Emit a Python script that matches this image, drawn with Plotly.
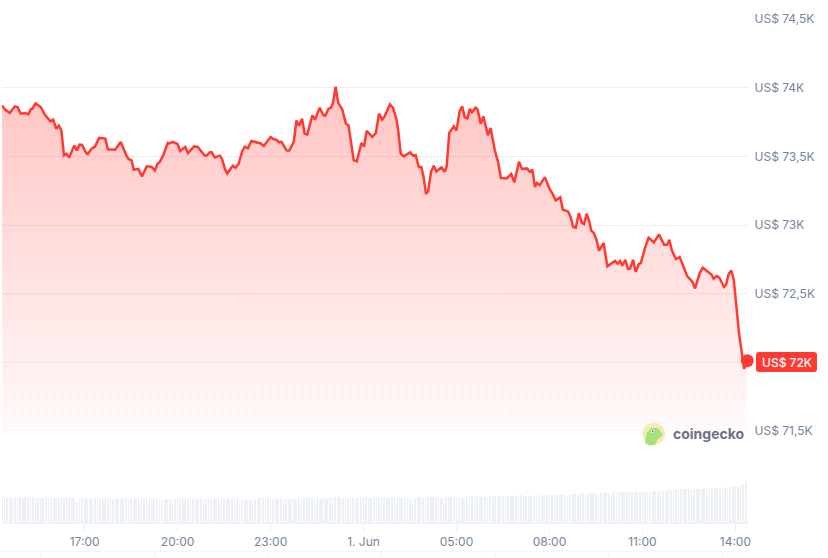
"""CoinGecko style BTC price chart, 24h, with volume bars underneath"""
import pandas as pd
import plotly.graph_objects as go

START = pd.Timestamp('2026-05-31 14:20')
RANGE_MINUTES = 1443.5

# minutes after START
MINUTES = [
    0, 6, 15, 25, 30, 36, 45, 51, 56, 59, 65, 75, 83, 94, 99, 105, 110, 115, 120, 125,
    130, 140, 145, 150, 155, 163, 166, 174, 180, 188, 200, 205, 219, 230, 241, 245, 251, 255, 264, 271,
    280, 290, 296, 301, 306, 312, 321, 325, 330, 340, 345, 355, 360, 372, 379, 392, 396, 403, 406, 412,
    422, 426, 432, 436, 447, 452, 458, 465, 470, 476, 483, 493, 501, 507, 520, 525, 531, 537, 541, 551,
    556, 565, 570, 575, 581, 586, 591, 601, 606, 615, 622, 626, 632, 637, 641, 646, 651, 659, 666, 671,
    681, 687, 696, 701, 706, 717, 724, 730, 736, 741, 751, 757, 764, 767, 772, 778, 790, 796, 801, 807,
    812, 816, 821, 825, 831, 836, 841, 851, 857, 861, 866, 875, 880, 886, 891, 896, 901, 906, 910, 917,
    921, 927, 932, 941, 946, 954, 961, 966, 977, 986, 992, 1001, 1007, 1016, 1022, 1027, 1032, 1036, 1041, 1051,
    1061, 1066, 1072, 1081, 1086, 1096, 1101, 1106, 1111, 1117, 1123, 1127, 1132, 1137, 1141, 1146, 1151, 1156, 1165, 1172,
    1180, 1187, 1192, 1197, 1201, 1207, 1212, 1216, 1222, 1227, 1233, 1237, 1245, 1252, 1262, 1272, 1282, 1288, 1292, 1297,
    1305, 1312, 1327, 1337, 1342, 1351, 1357, 1374, 1378, 1384, 1389, 1398, 1402, 1407, 1412, 1417, 1427, 1437, 1443,
]
PRICES = [
    73871, 73840, 73816, 73864, 73859, 73811, 73816, 73806, 73845, 73847, 73886, 73859, 73803, 73755, 73767, 73701, 73723, 73689, 73507, 73519,
    73492, 73578, 73543, 73585, 73583, 73524, 73517, 73558, 73570, 73634, 73629, 73551, 73548, 73605, 73505, 73481, 73471, 73403, 73408, 73354,
    73427, 73422, 73398, 73446, 73461, 73505, 73599, 73594, 73605, 73590, 73539, 73568, 73522, 73572, 73568, 73507, 73505, 73529, 73529, 73492,
    73505, 73481, 73403, 73376, 73432, 73417, 73444, 73536, 73570, 73558, 73612, 73599, 73594, 73575, 73640, 73626, 73621, 73602, 73607, 73543,
    73541, 73605, 73760, 73723, 73774, 73665, 73658, 73798, 73767, 73854, 73801, 73796, 73845, 73854, 73889, 74007, 73889, 73840, 73736, 73725,
    73471, 73463, 73597, 73572, 73685, 73641, 73670, 73811, 73767, 73791, 73878, 73854, 73767, 73694, 73519, 73500, 73529, 73505, 73510, 73422,
    73422, 73354, 73226, 73245, 73390, 73432, 73390, 73420, 73388, 73427, 73670, 73718, 73687, 73827, 73864, 73784, 73776, 73845, 73820, 73854,
    73840, 73736, 73791, 73653, 73706, 73548, 73452, 73342, 73339, 73371, 73310, 73461, 73408, 73412, 73388, 73403, 73277, 73306, 73290, 73347,
    73257, 73228, 73179, 73201, 73111, 73099, 73058, 72985, 72980, 73087, 73015, 73007, 73082, 73026, 72959, 72942, 72893, 72813, 72869, 72699,
    72718, 72738, 72718, 72738, 72704, 72747, 72680, 72682, 72747, 72660, 72716, 72723, 72833, 72908, 72873, 72932, 72857, 72857, 72893, 72815,
    72752, 72767, 72626, 72585, 72538, 72650, 72689, 72638, 72609, 72629, 72616, 72549, 72565, 72643, 72669, 72602, 72213, 71953, 72012,
]

# one bar every 5 minutes, arbitrary volume units
VOLUMES = [
    24, 24, 24, 24, 24, 25, 24, 25, 24, 25, 24, 25, 24, 24, 24, 24, 24, 25, 24, 24, 24, 24, 24, 24,
    24, 25, 24, 25, 24, 19, 23, 24, 23, 24, 24, 23, 24, 23, 23, 23, 24, 23, 23, 23, 23, 24, 24, 23,
    24, 23, 24, 23, 24, 23, 23, 23, 23, 23, 23, 23, 23, 22, 22, 23, 23, 23, 24, 24, 23, 23, 24, 23, 23,
    23, 24, 23, 23, 24, 23, 23, 24, 23, 23, 24, 23, 23, 23, 23, 24, 24, 23, 24, 23,
    22, 22, 22, 22, 22, 23, 24, 24, 24, 23, 24, 24, 23, 24, 23, 24, 23, 23, 23, 23,
    24, 23, 23, 23, 24, 24, 25, 24, 24, 24, 23, 24, 24, 23, 24, 25, 25, 25, 25, 24,
    24, 24, 25, 25, 24, 24, 24, 25, 25, 24, 24, 25, 25,
    25, 25, 24, 24, 24, 25, 25, 24, 25, 24, 24, 24, 23, 24, 24, 25, 25, 24, 24, 25,
    25, 25, 25, 25, 24, 24, 25, 25, 26, 25, 25, 24, 24, 24, 26, 26, 26, 25, 26, 25,
    25, 26, 25, 26, 25, 26, 26, 26, 26, 26, 26, 26, 26, 27, 26, 27, 27, 26, 26, 26,
    27, 26, 27, 26, 27, 27, 27, 27, 27, 27, 28, 27, 27, 26,
    28, 28, 28, 28, 29, 29, 29, 29, 29, 29, 29, 29, 29, 29, 30, 29, 29, 30, 29, 30,
    30, 30, 30, 30, 30, 30, 31, 31, 31, 30, 30, 30, 31, 31, 31, 31, 31, 31, 32, 32,
    32, 33, 33, 33, 33, 33, 33, 33, 33, 33, 33, 33, 34, 33, 34, 34, 34, 34, 33, 34,
    34, 35, 35, 35, 36, 36, 37, 38, 40,
]
VOLUME_STEP = 5

Y_TICKS = [71500, 72000, 72500, 73000, 73500, 74000, 74500]
Y_LABELS = ['US$ 71,5K', '', 'US$ 72,5K', 'US$ 73K', 'US$ 73,5K', 'US$ 74K', 'US$ 74,5K']
X_TICK_MINUTES = [160, 340, 520, 700, 880, 1060, 1240, 1420]
X_LABELS = ['17:00', '20:00', '23:00', '1. Jun', '05:00', '08:00', '11:00', '14:00']
CURRENT_LABEL = 'US$ 72K'

RED = '#ff3a33'
GRID = '#efefef'
AXIS_LINE = '#eef1f5'
TEXT = '#75859b'
W, H = 828, 558


def px(x):
    return x / W


def py(y):
    return 1 - y / H


times = START + pd.to_timedelta(MINUTES, unit='m')
volume_times = START + pd.to_timedelta([i * VOLUME_STEP for i in range(len(VOLUMES))], unit='m')
tick_times = START + pd.to_timedelta(X_TICK_MINUTES, unit='m')

fig = go.Figure()

# area, gradient first and then the dot pattern over it
fig.add_trace(go.Scatter(
    x=times, y=PRICES, mode='none', fill='tozeroy',
    fillgradient=dict(
        type='vertical', start=71500, stop=74000,
        colorscale=[[0, 'rgba(255,58,51,0.02)'], [1, 'rgba(255,58,51,0.29)']],
    ),
    hoverinfo='skip', showlegend=False,
))
fig.add_trace(go.Scatter(
    x=times, y=PRICES, mode='none', fill='tozeroy',
    fillcolor='rgba(0,0,0,0)',
    fillpattern=dict(shape='.', size=8, solidity=0.16, fgcolor='rgba(255,58,51,0.08)', bgcolor='rgba(0,0,0,0)', fillmode='overlay'),
    hoverinfo='skip', showlegend=False,
))
fig.add_trace(go.Scatter(
    x=times, y=PRICES, mode='lines',
    line=dict(color=RED, width=2.5),
    cliponaxis=False, showlegend=False,
))
fig.add_trace(go.Scatter(
    x=[times[-1]], y=[PRICES[-1]], mode='markers',
    marker=dict(color=RED, size=13),
    cliponaxis=False, showlegend=False,
))

# volume
fig.add_trace(go.Bar(
    x=volume_times, y=VOLUMES, yaxis='y2',
    marker=dict(color='#edf0f4', line=dict(width=0)),
    width=90000, showlegend=False, hoverinfo='skip',
))

# bottom gridline sits on the edge of the axis range, plotly drops it there
shapes = [dict(type='line', xref='paper', yref='y', x0=px(2), x1=px(747), y0=Y_TICKS[0], y1=Y_TICKS[0],
               line=dict(color=GRID, width=1))]

# navigator strip cut off by the bottom of the page
shapes.append(dict(type='line', xref='paper', yref='paper', x0=px(2), x1=px(747), y0=py(551.5), y1=py(551.5),
                   line=dict(color='#f3f6f8', width=1.5)))
for nx in [41, 155, 268, 381, 495, 609, 722]:
    shapes.append(dict(type='line', xref='paper', yref='paper', x0=px(nx), x1=px(nx), y0=py(551.5), y1=0,
                       line=dict(color='#f0f3f5', width=1)))

# red price tag
l, r, t, b, c = px(756), px(817), py(352), py(372), 3
cx, cy = c / W, c / H
shapes.append(dict(
    type='path', xref='paper', yref='paper', fillcolor=RED, line=dict(width=0),
    path=(f'M {l + cx} {t} L {r - cx} {t} Q {r} {t} {r} {t - cy} L {r} {b + cy} Q {r} {b} {r - cx} {b} '
          f'L {l + cx} {b} Q {l} {b} {l} {b + cy} L {l} {t - cy} Q {l} {t} {l + cx} {t} Z'),
))

# coingecko logo
shapes.append(dict(type='circle', xref='paper', yref='paper', x0=px(642.5), x1=px(665), y0=py(445), y1=py(423),
                   fillcolor='#f9e9b2', line=dict(width=0)))
blob = [(645, 443), (646.5, 433), (651, 428), (658, 428), (663, 435), (657, 440), (655, 445), (649, 445.5)]
shapes.append(dict(
    type='path', xref='paper', yref='paper', fillcolor='#a5e27c', line=dict(width=0),
    path='M ' + ' L '.join(f'{px(a)} {py(b_)}' for a, b_ in blob) + ' Z',
))
shapes.append(dict(type='circle', xref='paper', yref='paper', x0=px(651), x1=px(654), y0=py(433), y1=py(430),
                   fillcolor='#ffffff', line=dict(width=0)))
shapes.append(dict(type='circle', xref='paper', yref='paper', x0=px(652), x1=px(653.4), y0=py(432.2), y1=py(430.8),
                   fillcolor='#4a4a4a', line=dict(width=0)))

annotations = [
    dict(xref='paper', yref='y', x=px(786.5), y=72000, text=CURRENT_LABEL, showarrow=False,
         xanchor='center', yanchor='middle', font=dict(family='Inter', size=12, color='white', weight=500)),
    dict(xref='paper', yref='paper', x=px(671), y=py(433), text='coingecko', showarrow=False,
         xanchor='left', yanchor='middle', font=dict(family='Inter', size=14, color='#6f6f85', weight=700)),
]

fig.update_layout(
    width=W, height=H,
    margin=dict(l=0, r=0, t=0, b=0),
    paper_bgcolor='white', plot_bgcolor='white',
    font=dict(family='Inter', size=12, color=TEXT),
    bargap=0, hovermode='closest', showlegend=False,
    shapes=shapes, annotations=annotations,
    xaxis=dict(
        type='date', domain=[px(2), px(747.5)], anchor='y2', automargin=False,
        range=[START, START + pd.Timedelta(minutes=RANGE_MINUTES)],
        tickmode='array', tickvals=tick_times, ticktext=X_LABELS,
        showgrid=False, zeroline=False,
        showline=True, linecolor=AXIS_LINE, linewidth=1.5,
        ticks='outside', ticklen=8, tickcolor=AXIS_LINE, tickwidth=1,
        tickfont=dict(family='Inter', size=12, color=TEXT),
    ),
    yaxis=dict(
        domain=[py(431), py(19)], range=[71500, 74500], anchor='x', side='right', automargin=False,
        tickmode='array', tickvals=Y_TICKS, ticktext=Y_LABELS,
        showgrid=True, gridcolor=GRID, gridwidth=1, zeroline=False, showline=False,
        ticks='', ticklabelstandoff=6,
        tickfont=dict(family='Inter', size=12, color=TEXT),
    ),
    yaxis2=dict(
        domain=[py(522), py(470)], range=[0, 52], anchor='x', automargin=False,
        showgrid=False, zeroline=False, showticklabels=False, ticks='',
    ),
)

# browser default body margin would push the chart 8px down and right
fig.write_html('out.html', config={'displayModeBar': False}, post_script="document.body.style.margin = '0';")
